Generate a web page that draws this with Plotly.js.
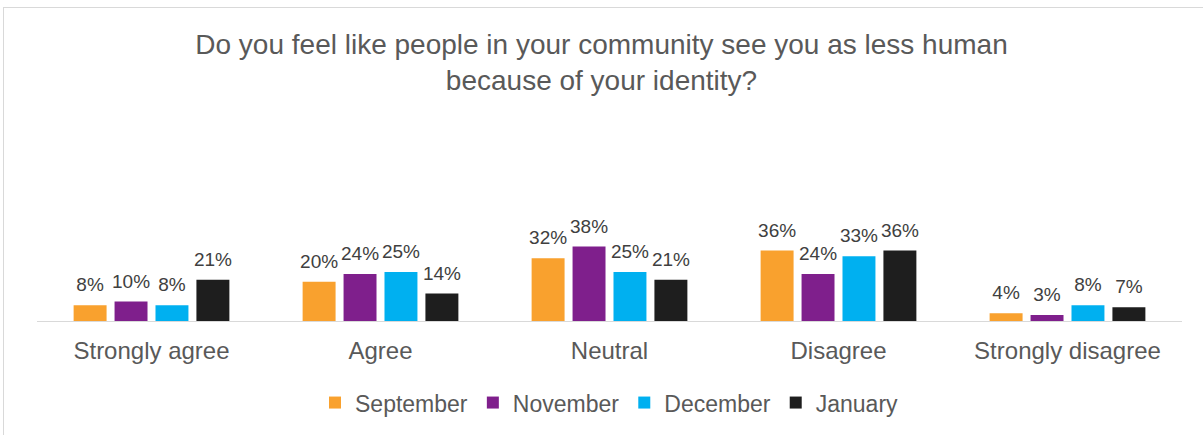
<!DOCTYPE html>
<html><head><meta charset="utf-8">
<script src="https://cdn.plot.ly/plotly-3.0.1.min.js"></script>
<style>
html,body{margin:0;padding:0;background:#fff;}
#frame{position:absolute;left:3px;top:7px;width:1210px;height:440px;border:1px solid #d9d9d9;box-sizing:border-box;pointer-events:none;}
#chart{width:1203px;height:435px;}
</style></head>
<body>
<div id="chart"></div>
<div id="frame"></div>
<script>
const categories = ["Strongly agree", "Agree", "Neutral", "Disagree", "Strongly disagree"];
const seriesNames = ["September", "November", "December", "January"];
const september = [0.08, 0.20, 0.32, 0.36, 0.04];
const november  = [0.10, 0.24, 0.38, 0.24, 0.03];
const december  = [0.08, 0.25, 0.25, 0.33, 0.08];
const january   = [0.21, 0.14, 0.21, 0.36, 0.07];
const colors = ["#F9A12E", "#7F1F8C", "#00B0F0", "#1E1E1E"];
const allValues = [september, november, december, january];

const FONT = "Liberation Sans, Arial, sans-serif";
const GAP = 0.285;
const barTraces = allValues.map((vals, i) => ({
  type: "bar",
  name: seriesNames[i],
  x: categories,
  y: vals,
  marker: {color: colors[i]},
  offsetgroup: String(i),
  hoverinfo: "none"
}));
const labelTraces = allValues.map((vals, i) => ({
  type: "scatter",
  mode: "markers+text",
  x: categories,
  y: vals,
  offsetgroup: String(i),
  marker: {size: 13, opacity: 0, color: colors[i]},
  text: vals.map(v => Math.round(v * 100) + "%"),
  textposition: "top center",
  textfont: {family: FONT, size: 19, color: "#404040"},
  cliponaxis: false,
  showlegend: false,
  hoverinfo: "none"
}));

const layout = {
  width: 1203, height: 435,
  paper_bgcolor: "#fff", plot_bgcolor: "#fff",
  margin: {l: 37, r: 21, t: 125, b: 113},
  title: {
    text: "Do you feel like people in your community see you as less human<br>because of your identity?",
    font: {family: FONT, size: 28, color: "#595959"},
    x: 0.5, xanchor: "center", y: 1 - 54/435, yanchor: "top", yref: "container"
  },
  barmode: "group",
  bargap: GAP,
  bargroupgap: 0.195,
  scattermode: "group",
  scattergap: GAP,
  xaxis: {
    showline: true, linecolor: "#d9d9d9", linewidth: 1,
    ticks: "", showgrid: false,
    tickfont: {family: FONT, size: 24, color: "#595959"},
    ticklabelstandoff: 8,
    fixedrange: true
  },
  yaxis: {
    range: [0, 1], visible: false, showgrid: false, zeroline: false, fixedrange: true
  },
  legend: {
    orientation: "h", x: 0.5, xanchor: "center", y: -0.30, yanchor: "top",
    font: {family: FONT, size: 23, color: "#595959"},
    itemwidth: 30, traceorder: "normal"
  },
  showlegend: true
};

Plotly.newPlot("chart", barTraces.concat(labelTraces), layout, {displayModeBar: false, staticPlot: true});
</script>
</body></html>
